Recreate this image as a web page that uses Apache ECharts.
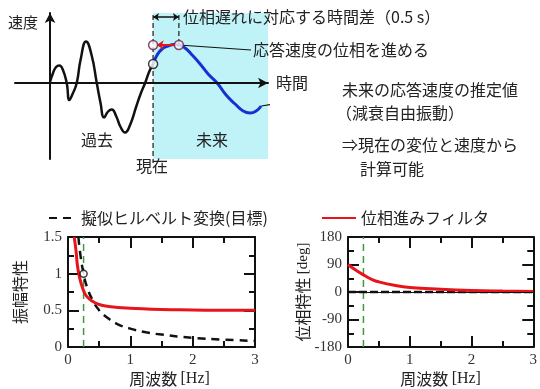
<!DOCTYPE html>
<html>
<head>
<meta charset="utf-8">
<script src="https://cdn.jsdelivr.net/npm/echarts@6/dist/echarts.min.js"></script>
<style>
  html, body { margin: 0; padding: 0; background: #fff; }
  #chart { width: 540px; height: 389px; }
</style>
</head>
<body>
<div id="chart"></div>
<script>
// Velocity history (past) and estimated free-vibration response (future)
const pastTime = [0, 0.058, 0.117, 0.18, 0.243, 0.324, 0.375, 0.437, 0.518, 0.592, 0.699, 0.806, 0.907,
  0.98, 1.049, 1.126, 1.198, 1.282, 1.369, 1.456, 1.553, 1.67, 1.757, 1.845, 1.922, 2.0];
const pastVelocity = [0.02, 0.2, 0.32, 0.35, 0.28, 0, -0.34, -0.22, 0, 0.46, 0.83, 0.56, 0,
  -0.4, -0.69, -0.57, -0.53, -0.66, -0.88, -0.99, -0.84, -0.48, -0.22, 0, 0.22, 0.38];
const futureTime = [2.0, 2.078, 2.175, 2.291, 2.408, 2.505, 2.621, 2.757, 2.913, 3.068, 3.243,
  3.417, 3.592, 3.748, 3.883, 4.0, 4.097];
const futureVelocity = [0.38, 0.56, 0.68, 0.74, 0.77, 0.76, 0.7, 0.56, 0.38, 0.18, 0,
  -0.24, -0.42, -0.56, -0.6, -0.56, -0.46];
const presentTime = 2.0;
const phaseLag = 0.5;            // seconds
const presentVelocity = 0.38;
const advancedVelocity = 0.76;
const futureEnd = 4.23;

// Frequency characteristics
const targetName = '擬似ヒルベルト変換(目標)';
const filterName = '位相進みフィルタ';
const ampFreq = [0.167, 0.2, 0.25, 0.3, 0.4, 0.5, 0.6, 0.8, 1.0, 1.25, 1.5, 2.0, 2.5, 3.0];
const targetAmp = [1.5, 1.25, 1.0, 0.83, 0.63, 0.5, 0.42, 0.31, 0.25, 0.2, 0.17, 0.125, 0.1, 0.083];
const filterAmpFreq = [0.1, 0.13, 0.15, 0.18, 0.22, 0.25, 0.3, 0.4, 0.5, 0.6, 0.8, 1.0, 1.5, 2.0, 2.5, 3.0];
const filterAmp = [1.5, 1.3, 1.12, 0.97, 0.84, 0.77, 0.69, 0.62, 0.58, 0.56, 0.54, 0.53, 0.51, 0.505, 0.5, 0.5];
const phaseFreq = [0, 0.1, 0.25, 0.4, 0.5, 0.75, 1.0, 1.5, 2.0, 2.5, 3.0];
const filterPhase = [90, 75, 56, 40, 33, 22, 15, 9, 5, 3, 2];
const targetPhaseFreq = [0, 3];
const targetPhase = [0, 0];
const naturalFreq = 0.25;        // Hz
const ampTicks = { min: 0, max: 1.5, step: 0.5 };
const phaseTicks = { min: -180, max: 180, step: 90 };
const freqTicks = { min: 0, max: 3, step: 1 };

const FONT_JP = "'Noto Sans CJK JP', 'Noto Sans', sans-serif";
const FONT_SERIF = "'Liberation Serif', 'DejaVu Serif', serif";
const INK = '#111';
const RED = '#e8141b';
const GREEN = '#3c9b3c';
const BLUE = '#1432d2';

const zip = (xs, ys) => xs.map((x, i) => [x, ys[i]]);

function frameAxis(gridIndex, position, ticks, withLabel, extra) {
  return Object.assign({
    type: 'value', gridIndex, position,
    min: ticks.min, max: ticks.max, interval: ticks.step,
    axisLine: { onZero: false, lineStyle: { color: INK, width: 2 } },
    axisTick: { inside: true, length: 11, lineStyle: { color: INK, width: 2 } },
    minorTick: { show: true, splitNumber: 2, length: 6, lineStyle: { color: INK, width: 2 } },
    splitLine: { show: false },
    axisLabel: { show: withLabel, fontFamily: FONT_SERIF, fontSize: 15, color: '#333', margin: 6 }
  }, extra || {});
}

const freqName = (shift) => ({
  name: '{j|周波数} {s|[Hz]}', nameLocation: 'middle', nameGap: 24,
  nameTextStyle: { color: '#222', padding: [0, 0, 0, shift],
    rich: { j: { fontFamily: FONT_JP, fontSize: 16, color: '#222' }, s: { fontFamily: FONT_SERIF, fontSize: 16, color: '#222' } } }
});

const text = (str, x, y, align, size) => ({
  type: 'text', x, y, z: 100,
  style: { text: str, fontFamily: FONT_JP, fontSize: size || 16, fill: '#222', align: align || 'left', verticalAlign: 'middle' }
});

const legendText = { fontFamily: FONT_JP, fontSize: 16, color: '#222' };

const chart = echarts.init(document.getElementById('chart'));
chart.setOption({
  animation: false,
  backgroundColor: '#fff',
  grid: [
    { left: 15, right: 272, top: 13, bottom: 230 },
    { left: 68, right: 285, top: 237, bottom: 42 },
    { left: 348, right: 5, top: 237, bottom: 42 }
  ],
  legend: [
    { data: [targetName], left: 43, top: 205, itemWidth: 27, itemHeight: 16,
      itemStyle: { opacity: 0 }, textStyle: legendText },
    { data: [filterName], left: 316, top: 205, itemWidth: 34, itemHeight: 16,
      itemStyle: { opacity: 0 }, textStyle: legendText }
  ],
  xAxis: [
    { type: 'value', gridIndex: 0, min: -0.68, max: futureEnd, z: 10,
      axisLine: { onZero: true, symbol: ['none', 'arrow'], symbolSize: [8, 10], lineStyle: { color: INK, width: 2 } },
      axisTick: { show: false }, axisLabel: { show: false }, splitLine: { show: false },
      name: '時間', nameLocation: 'end', nameGap: 8,
      nameTextStyle: { fontFamily: FONT_JP, fontSize: 16, color: '#222' } },
    frameAxis(1, 'bottom', freqTicks, true, freqName(16)),
    frameAxis(1, 'top', freqTicks, false),
    frameAxis(2, 'bottom', freqTicks, true, freqName(0)),
    frameAxis(2, 'top', freqTicks, false)
  ],
  yAxis: [
    { type: 'value', gridIndex: 0, min: -1.52, max: 1.4, z: 10,
      axisLine: { onZero: true, symbol: ['none', 'arrow'], symbolSize: [8, 10], lineStyle: { color: INK, width: 2 } },
      axisTick: { show: false }, axisLabel: { show: false }, splitLine: { show: false } },
    frameAxis(1, 'left', ampTicks, true, {
      name: '振幅特性', nameLocation: 'middle', nameGap: 40,
      nameTextStyle: { fontFamily: FONT_JP, fontSize: 16, color: '#222' } }),
    frameAxis(1, 'right', ampTicks, false),
    frameAxis(2, 'left', phaseTicks, true, {
      name: '{j|位相特性} {s|[deg]}', nameLocation: 'middle', nameGap: 36,
      nameTextStyle: { color: '#222', rich: { j: { fontFamily: FONT_JP, fontSize: 16, color: '#222' }, s: { fontFamily: FONT_SERIF, fontSize: 15, color: '#222' } } } }),
    frameAxis(2, 'right', phaseTicks, false)
  ],
  series: [
    // ---- time-domain sketch ----
    { type: 'line', name: '現在線', xAxisIndex: 0, yAxisIndex: 0, symbol: 'none', clip: false, z: 3,
      data: [[presentTime, 1.36], [presentTime, -1.6]],
      lineStyle: { color: '#444', width: 1.5, type: [5, 3] },
      markArea: { silent: true, itemStyle: { color: '#bff3f8' },
        data: [[{ coord: [presentTime, 1.4] }, { coord: [futureEnd, -1.52] }]] },
      markLine: { silent: true, symbol: ['arrow', 'arrow'], symbolSize: 6, label: { show: false },
        lineStyle: { color: INK, width: 1.5, type: 'solid' },
        data: [[{ coord: [presentTime, 1.32] }, { coord: [presentTime + phaseLag, 1.32] }]] } },
    { type: 'line', name: '遅れ線', xAxisIndex: 0, yAxisIndex: 0, symbol: 'none', clip: false, z: 3,
      data: [[presentTime + phaseLag, 1.36], [presentTime + phaseLag, advancedVelocity]],
      lineStyle: { color: '#444', width: 1.5, type: [5, 3] } },
    { type: 'line', name: '過去', xAxisIndex: 0, yAxisIndex: 0, symbol: 'none', smooth: true, z: 4,
      data: zip(pastTime, pastVelocity), lineStyle: { color: INK, width: 2.5 } },
    { type: 'line', name: '未来', xAxisIndex: 0, yAxisIndex: 0, symbol: 'none', smooth: true, z: 4,
      data: zip(futureTime, futureVelocity), lineStyle: { color: BLUE, width: 3 },
      markLine: { silent: true, symbol: ['none', 'arrow'], symbolSize: 7, label: { show: false },
        lineStyle: { color: RED, width: 2, type: 'solid' },
        data: [[{ coord: [presentTime + phaseLag - 0.04, advancedVelocity] }, { coord: [presentTime + 0.07, advancedVelocity] }]] } },
    { type: 'line', name: '引出線1', xAxisIndex: 0, yAxisIndex: 0, symbol: 'none', clip: false, z: 3,
      data: [[presentTime + phaseLag, advancedVelocity], [3.9, 0.66]], lineStyle: { color: INK, width: 1.2 } },
    { type: 'line', name: '引出線2', xAxisIndex: 0, yAxisIndex: 0, symbol: 'none', clip: false, z: 3,
      data: [[4.1, -0.46], [5.6, -0.2]], lineStyle: { color: INK, width: 1.2 } },
    { type: 'scatter', name: '位相進め点', xAxisIndex: 0, yAxisIndex: 0, symbolSize: 9, z: 6,
      data: [[presentTime, advancedVelocity], [presentTime + phaseLag, advancedVelocity]],
      itemStyle: { color: '#fff4f8', borderColor: '#6a2048', borderWidth: 1.5 } },
    { type: 'scatter', name: '現在点', xAxisIndex: 0, yAxisIndex: 0, symbolSize: 9, z: 6,
      data: [[presentTime, presentVelocity]],
      itemStyle: { color: '#fff', borderColor: INK, borderWidth: 1.5 } },

    // ---- amplitude characteristics ----
    { type: 'line', name: '固有振動数A', xAxisIndex: 1, yAxisIndex: 1, symbol: 'none', z: 2,
      data: [[naturalFreq, ampTicks.min], [naturalFreq, ampTicks.max]],
      lineStyle: { color: GREEN, width: 1.5, type: [7, 5] } },
    { type: 'line', name: targetName, xAxisIndex: 1, yAxisIndex: 1, symbol: 'none', smooth: true, z: 3,
      data: zip(ampFreq, targetAmp), itemStyle: { color: INK },
      lineStyle: { color: INK, width: 2.5, type: [8, 6] } },
    { type: 'line', name: filterName, xAxisIndex: 1, yAxisIndex: 1, symbol: 'none', smooth: true, z: 4,
      data: zip(filterAmpFreq, filterAmp), itemStyle: { color: RED },
      lineStyle: { color: RED, width: 3 } },
    { type: 'scatter', name: '目標点', xAxisIndex: 1, yAxisIndex: 1, symbolSize: 7, z: 5,
      data: [[naturalFreq, 1.0]], itemStyle: { color: '#fff', borderColor: INK, borderWidth: 1.5 } },

    // ---- phase characteristics ----
    { type: 'line', name: '固有振動数P', xAxisIndex: 3, yAxisIndex: 3, symbol: 'none', z: 2,
      data: [[naturalFreq, phaseTicks.min], [naturalFreq, phaseTicks.max]],
      lineStyle: { color: GREEN, width: 1.5, type: [7, 5] } },
    { type: 'line', name: targetName, xAxisIndex: 3, yAxisIndex: 3, symbol: 'none', z: 3,
      data: zip(targetPhaseFreq, targetPhase), itemStyle: { color: INK },
      lineStyle: { color: INK, width: 2.5, type: [8, 3] },
      markLine: { silent: true, symbol: 'none', label: { show: false },
        lineStyle: { color: INK, width: 1.2, type: 'solid' }, data: [{ yAxis: 0 }] } },
    { type: 'line', name: filterName, xAxisIndex: 3, yAxisIndex: 3, symbol: 'none', smooth: true, z: 4,
      data: zip(phaseFreq, filterPhase), itemStyle: { color: RED },
      lineStyle: { color: RED, width: 3 } }
  ],
  graphic: [
    text('速度', 8, 22, 'left', 15),
    text('位相遅れに対応する時間差（0.5 s）', 183, 17),
    text('応答速度の位相を進める', 253, 50),
    text('未来の応答速度の推定値', 342, 90),
    text('（減衰自由振動）', 336, 113),
    text('⇒現在の変位と速度から', 342, 145),
    text('計算可能', 360, 169),
    text('過去', 97, 140, 'center'),
    text('未来', 212, 140, 'center'),
    text('現在', 152, 166, 'center')
  ]
});
</script>
</body>
</html>
